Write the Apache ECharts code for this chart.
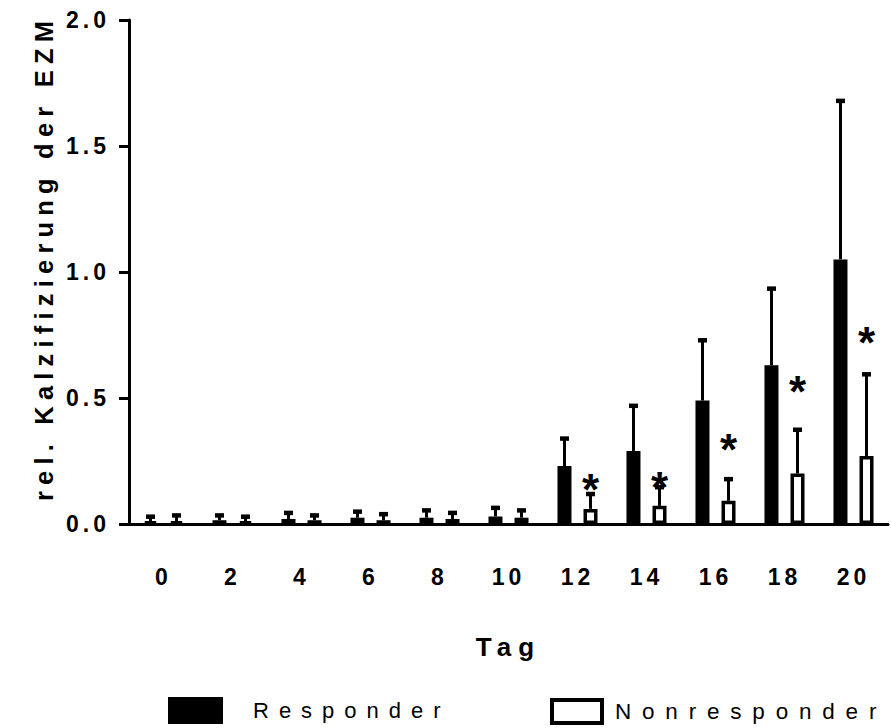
<!DOCTYPE html>
<html>
<head>
<meta charset="utf-8">
<script src="https://cdn.jsdelivr.net/npm/echarts@6/dist/echarts.min.js"></script>
<style>
  html, body { margin: 0; padding: 0; background: #fff; }
  #chart { width: 891px; height: 728px; }
  #chart svg text[style*="23px"] { letter-spacing: 4px; }
  #chart svg text[style*="26px"] { letter-spacing: 7px; }
  #chart svg text[style*="25.5px"] { letter-spacing: 6.2px; }
  #chart svg text[style*="22px"] { letter-spacing: 10px; }
  #chart svg text[style*="22.5px"] { letter-spacing: 10.8px; }
</style>
</head>
<body>
<div id="chart"></div>
<script>
// ---- data ----
const days = ['0', '2', '4', '6', '8', '10', '12', '14', '16', '18', '20'];
const responderMean = [0.010, 0.015, 0.020, 0.025, 0.025, 0.030, 0.230, 0.290, 0.490, 0.630, 1.050];
const responderSD   = [0.020, 0.020, 0.025, 0.025, 0.030, 0.035, 0.110, 0.180, 0.240, 0.305, 0.630];
const nonresponderMean = [0.010, 0.010, 0.015, 0.015, 0.020, 0.025, 0.060, 0.072, 0.092, 0.200, 0.270];
const nonresponderSD   = [0.025, 0.020, 0.020, 0.025, 0.025, 0.030, 0.060, 0.075, 0.087, 0.175, 0.325];
// height (value units) of significance asterisks above the Nonresponder bars
const starLevel = [null, null, null, null, null, null, 0.177, 0.185, 0.335, 0.565, 0.760];
const yTicks = [0, 0.5, 1.0, 1.5, 2.0];
const seriesNames = ['Responder', 'Nonresponder'];

// ---- chart ----
const chart = echarts.init(document.getElementById('chart'), null, { renderer: 'svg' });
const FONT = '"Liberation Sans", Arial, Helvetica, sans-serif';
const BAR_OFFSET = 13;

function errData(mean, sd) {
  return mean.map((m, i) => [i, m, sd[i]]);
}
function errorRenderer(offset) {
  return function (params, api) {
    const idx = api.value(0);
    const m = api.value(1);
    const s = api.value(2);
    const p0 = api.coord([idx, m]);
    const p1 = api.coord([idx, m + s]);
    const x = p0[0] + offset;
    return {
      type: 'group',
      children: [
        { type: 'line', shape: { x1: x, y1: p0[1], x2: x, y2: p1[1] + 1 },
          style: { stroke: '#000', lineWidth: 3 } },
        { type: 'rect', shape: { x: x - 4.5, y: p1[1] - 2, width: 9, height: 4.5 },
          style: { fill: '#000' } }
      ]
    };
  };
}

const option = {
  animation: false,
  backgroundColor: '#fff',
  grid: { left: 129, right: 3, top: 20, bottom: 204, containLabel: false },
  legend: [
    {
      data: [{ name: 'Responder', itemStyle: { color: '#000', borderColor: '#000', borderWidth: 0 } }],
      left: 168, top: 697, padding: 0, icon: 'rect', itemWidth: 55, itemHeight: 27,
      selectedMode: false,
      textStyle: { fontFamily: FONT, fontSize: 22, color: '#000', padding: [0, 0, 0, 25] }
    },
    {
      data: [{ name: 'Nonresponder', itemStyle: { color: '#fff', borderColor: '#000', borderWidth: 4 } }],
      left: 550, top: 698, padding: 0, icon: 'rect', itemWidth: 50, itemHeight: 23,
      selectedMode: false,
      textStyle: { fontFamily: FONT, fontSize: 22.5, color: '#000', padding: [0, 0, 0, 8] }
    }
  ],
  xAxis: {
    type: 'category',
    data: days,
    boundaryGap: true,
    name: 'Tag',
    nameLocation: 'middle',
    nameGap: 110,
    nameTextStyle: { fontFamily: FONT, fontSize: 26, fontWeight: 'bold', color: '#000' },
    axisLine: { lineStyle: { color: '#000', width: 3 } },
    axisTick: { alignWithLabel: true, length: 12, lineStyle: { color: '#000', width: 3 } },
    axisLabel: { interval: 0, margin: 41, fontFamily: FONT, fontSize: 23, fontWeight: 'bold', color: '#000' },
    splitLine: { show: false }
  },
  yAxis: {
    type: 'value',
    min: 0, max: 2, interval: 0.5,
    name: 'rel. Kalzifizierung der EZM',
    nameLocation: 'middle',
    nameGap: 72,
    nameTextStyle: { fontFamily: FONT, fontSize: 25.5, fontWeight: 'bold', color: '#000', padding: [0, 0, 0, 28] },
    axisLine: { show: true, lineStyle: { color: '#000', width: 3 } },
    axisTick: { show: true, length: 10, lineStyle: { color: '#000', width: 3 } },
    axisLabel: {
      margin: 19, fontFamily: FONT, fontSize: 23, fontWeight: 'bold', color: '#000',
      formatter: v => (yTicks.indexOf(v) >= 0 ? v.toFixed(1) : '')
    },
    splitLine: { show: false }
  },
  series: [
    {
      name: seriesNames[0], type: 'bar', data: responderMean,
      barWidth: 14, barGap: '86%',
      itemStyle: { color: '#000', borderColor: '#000', borderWidth: 3.5 },
      z: 3
    },
    {
      name: seriesNames[1], type: 'bar', data: nonresponderMean,
      barWidth: 14, barGap: '86%',
      itemStyle: { color: '#fff', borderColor: '#000', borderWidth: 3.5 },
      z: 3
    },
    {
      type: 'custom', name: 'errR', data: errData(responderMean, responderSD),
      renderItem: errorRenderer(-BAR_OFFSET), z: 4, silent: true
    },
    {
      type: 'custom', name: 'errN', data: errData(nonresponderMean, nonresponderSD),
      renderItem: errorRenderer(BAR_OFFSET), z: 4, silent: true
    },
    {
      type: 'custom', name: 'stars',
      data: starLevel.map((v, i) => [i, v]).filter(d => d[1] !== null),
      renderItem: function (params, api) {
        const p = api.coord([api.value(0), api.value(1)]);
        return {
          type: 'text', x: p[0] + BAR_OFFSET, y: p[1] + 10,
          style: { text: '*', font: 'bold 44px ' + FONT, fill: '#000',
                   textAlign: 'center', textVerticalAlign: 'middle' }
        };
      },
      z: 5, silent: true
    }
  ]
};
chart.setOption(option);
</script>
</body>
</html>
